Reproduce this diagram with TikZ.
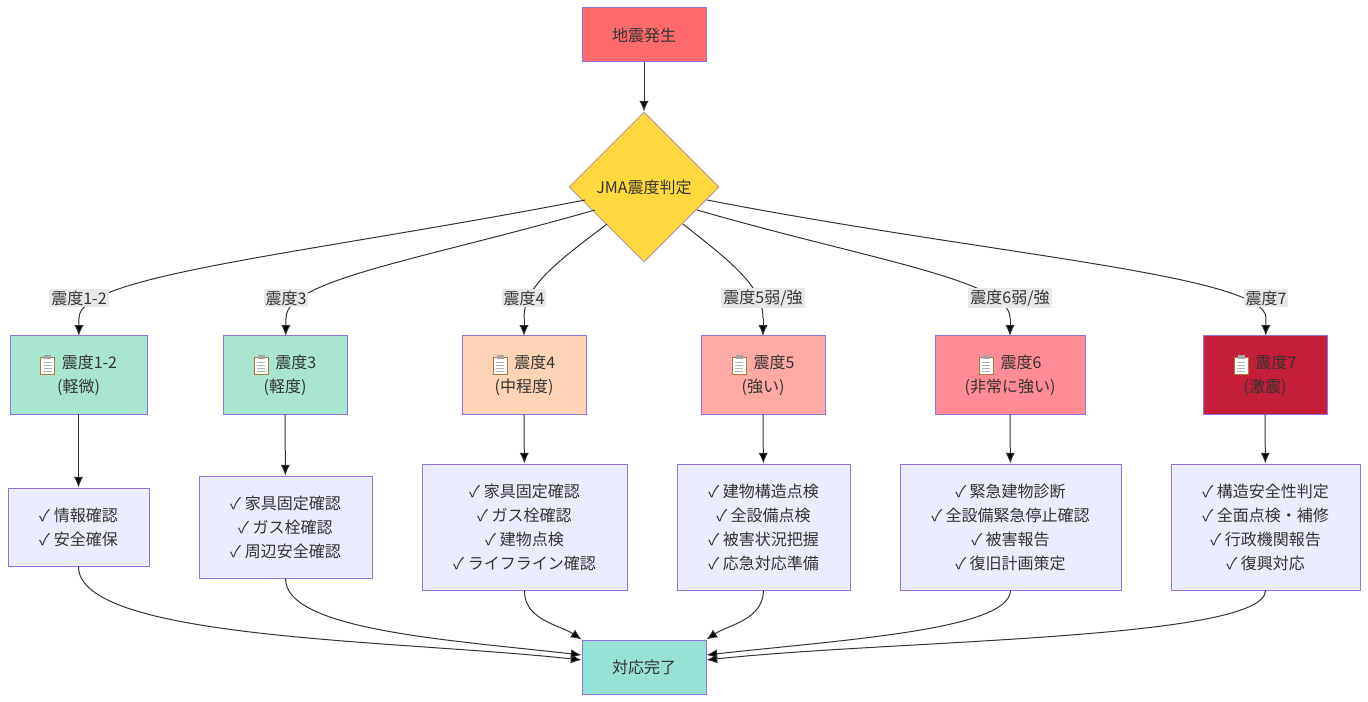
\documentclass[tikz,border=0pt]{standalone}
\usepackage{fontspec}
\setmainfont{Noto Sans CJK JP}
\usetikzlibrary{shapes.geometric,arrows.meta}
\definecolor{edgeC}{HTML}{333333}
\definecolor{bordC}{HTML}{9370DB}
\definecolor{startC}{HTML}{FF6B6B}
\definecolor{judgeC}{HTML}{FFD93D}
\definecolor{lowC}{HTML}{A8E6CF}
\definecolor{midC}{HTML}{FFD3B6}
\definecolor{strC}{HTML}{FFAAA5}
\definecolor{vstrC}{HTML}{FF8B94}
\definecolor{sevC}{HTML}{C41E3A}
\definecolor{actC}{HTML}{ECECFF}
\definecolor{endC}{HTML}{95E1D3}
\definecolor{lblC}{HTML}{E8E8E8}
\newcommand{\clipicon}{\tikz[baseline=-2pt,x=0.75pt,y=0.75pt]{%
  \draw[draw={rgb,255:red,170;green,120;blue,60},fill=white,line width=0.9pt] (-7,-9) rectangle (7,8);
  \fill[gray!70] (-3.5,6.5) rectangle (3.5,10);
  \foreach \yy in {3,0,-3,-6} \draw[gray!60,line width=0.5pt] (-4,\yy) -- (4,\yy);}\hspace{5pt}}
\tikzset{every picture/.style={line width=0.75pt}}
\begin{document}
\begin{tikzpicture}[x=0.75pt,y=0.75pt,yscale=-1,xscale=1,
  box/.style={draw=bordC,rectangle,align=center,inner sep=0pt,font=\fontsize{12}{18}\selectfont,text=edgeC},
  sz/.style 2 args={minimum width=#1*0.75pt,minimum height=#2*0.75pt},
  lbl/.style={fill=lblC,inner sep=1.5pt,font=\fontsize{12}{14}\selectfont,text=edgeC},
  arr/.style={draw=edgeC,-{Latex[length=8pt,width=7pt]}},
  ln/.style={draw=edgeC}]
\useasboundingbox (0,0) rectangle (1368,702);
% nodes
\node[box,sz={124}{54},fill=startC] (start) at (644,35) {地震発生};
\node[box,diamond,sz={150}{150},fill=judgeC,draw=bordC!60!judgeC,aspect=1] (judge) at (644,187) {JMA震度判定};
\node[box,sz={137}{78},fill=lowC] (lv1) at (78.5,375) {\clipicon 震度1-2\\(軽微)};
\node[box,sz={124}{78},fill=lowC] (lv2) at (285,375) {\clipicon 震度3\\(軽度)};
\node[box,sz={124}{78},fill=midC] (lv3) at (524,375) {\clipicon 震度4\\(中程度)};
\node[box,sz={124}{78},fill=strC] (lv4) at (763,375) {\clipicon 震度5\\(強い)};
\node[box,sz={150}{78},fill=vstrC] (lv5) at (1010,375) {\clipicon 震度6\\(非常に強い)};
\node[box,sz={124}{78},fill=sevC] (lv6) at (1265,375) {\clipicon 震度7\\(激震)};
\node[box,sz={141}{78},fill=actC] (act1) at (78.5,527) {✓ 情報確認\\✓ 安全確保};
\node[box,sz={173}{102},fill=actC] (act2) at (285.5,527) {✓ 家具固定確認\\✓ ガス栓確認\\✓ 周辺安全確認};
\node[box,sz={205}{126},fill=actC] (act3) at (524.5,527) {✓ 家具固定確認\\✓ ガス栓確認\\✓ 建物点検\\✓ ライフライン確認};
\node[box,sz={173}{126},fill=actC] (act4) at (763.5,527) {✓ 建物構造点検\\✓ 全設備点検\\✓ 被害状況把握\\✓ 応急対応準備};
\node[box,sz={221}{126},fill=actC] (act5) at (1010.5,527) {✓ 緊急建物診断\\✓ 全設備緊急停止確認\\✓ 被害報告\\✓ 復旧計画策定};
\node[box,sz={189}{126},fill=actC] (act6) at (1265.5,527) {✓ 構造安全性判定\\✓ 全面点検・補修\\✓ 行政機関報告\\✓ 復興対応};
\node[box,sz={124}{54},fill=endC] (done) at (644,667) {対応完了};
% label points
\coordinate (p1) at (79,318); \coordinate (p2) at (286,318); \coordinate (p3) at (524,318);
\coordinate (p4) at (763,318); \coordinate (p5) at (1010,318); \coordinate (p6) at (1266,318);
% edges
\draw[arr] (start) -- (judge);
\draw[ln] (585,200) .. controls (300,255) and (79,275) .. (p1);
\draw[ln] (595,210) .. controls (420,260) and (286,280) .. (p2);
\draw[ln] (607,224) .. controls (560,260) and (524,285) .. (p3);
\draw[ln] (683,224) .. controls (728,260) and (763,285) .. (p4);
\draw[ln] (697,210) .. controls (870,260) and (1010,280) .. (p5);
\draw[ln] (707,200) .. controls (990,255) and (1266,275) .. (p6);
\foreach \i in {1,...,6} {
  \draw[arr] (p\i) -- (lv\i);
  \draw[arr] (lv\i) -- (act\i);
}
\draw[arr] (act1.south) .. controls (78,640) and (400,640) .. (done.west |- 0,660);
\draw[arr] (act2.south) .. controls (285,630) and (450,640) .. (done.west |- 0,655);
\draw[arr] (act3.south) .. controls (524,620) and (560,625) .. (done.north west);
\draw[arr] (act4.south) .. controls (763,620) and (728,625) .. (done.north east);
\draw[arr] (act5.south) .. controls (1010,630) and (840,640) .. (done.east |- 0,655);
\draw[arr] (act6.south) .. controls (1265,640) and (890,640) .. (done.east |- 0,660);
% labels on top
\node[lbl] (l1) at (79,298) {震度1-2};
\node[lbl] (l2) at (286,298) {震度3};
\node[lbl] (l3) at (524,298) {震度4};
\node[lbl] (l4) at (763,298) {震度5弱/強};
\node[lbl] (l5) at (1010,298) {震度6弱/強};
\node[lbl] (l6) at (1266,298) {震度7};
\end{tikzpicture}
\end{document}
